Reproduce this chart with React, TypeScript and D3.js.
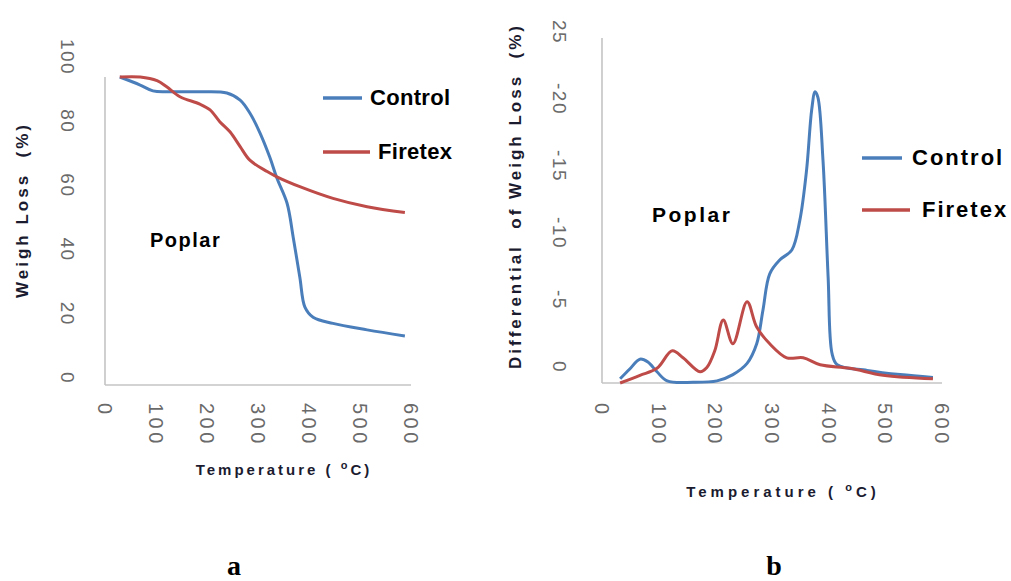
import React from 'react';
import * as d3 from 'd3';

// temperature (°C) for each reading
const tempControlTG = [29, 69, 94, 121, 186, 239, 265, 284, 304, 323, 337, 357, 369, 382, 392, 408, 447, 514, 588];
const weightControl = [100, 97.4, 95.5, 95.2, 95.2, 94.8, 92.5, 88.3, 81.8, 74, 67.2, 59, 48, 35, 25.3, 22, 20, 17.9, 15.9];

const tempFiretexTG = [29, 69, 102, 121, 147, 186, 206, 225, 245, 265, 284, 318, 337, 382, 447, 514, 588];
const weightFiretex = [100, 100, 98.8, 96.8, 93.6, 91.2, 89.3, 85.5, 82.2, 77.4, 73, 69.3, 67.6, 64.4, 60.6, 57.9, 56];

const tempControlDTG = [32, 49, 67, 81, 97, 115, 161, 203, 231, 256, 273, 284, 296, 314, 335, 349, 361, 370, 376, 381, 390, 399, 406, 415, 468, 526, 584];
const dtgControl = [0.3, 1.0, 1.7, 1.5, 0.8, 0.15, 0.05, 0.15, 0.6, 1.4, 2.8, 5.2, 7.8, 8.8, 9.5, 11.6, 15.2, 19.5, 20.8, 20.4, 15.9, 7.6, 2.1, 1.3, 0.9, 0.6, 0.4];

const tempFiretexDTG = [32, 67, 97, 124, 143, 173, 185, 199, 214, 231, 256, 273, 296, 326, 355, 385, 438, 496, 584];
const dtgFiretex = [0, 0.55, 1.05, 2.3, 1.8, 0.8, 1.1, 2.3, 4.5, 2.8, 5.8, 4.0, 2.8, 1.8, 1.8, 1.3, 1.05, 0.55, 0.3];

const xTicks = [0, 100, 200, 300, 400, 500, 600];
const tgTicks = [0, 20, 40, 60, 80, 100];
const dtgTicks = [0, 5, 10, 15, 20, 25];
const dtgTickLabels = ['0', '-5', '-10', '-15', '-20', '25'];

const seriesNames = ['Control', 'Firetex'];
const colors = ['#4a7ebb', '#be4b48'];

const sans = '"Liberation Sans", Arial, sans-serif';
const serif = '"Liberation Serif", "Times New Roman", serif';
const tickColor = '#6a6a6a';
const titleColor = '#1b1b30';
const axisColor = '#c4c4c4';

const toPts = (xs, ys) => xs.map((t, i) => [t, ys[i]]);

const Panel = ({ cfg }) => {
  const x = d3.scaleLinear().domain([0, 600]).range(cfg.xRange);
  const y = d3.scaleLinear().domain(cfg.yDomain).range(cfg.yRange);
  // excel put the rotated tick labels a little above the actual ticks
  const yLab = y.copy().range(cfg.yLabelRange);
  const line = d3.line()
    .x(d => x(d[0]))
    .y(d => y(d[1]))
    .curve(d3.curveCatmullRom.alpha(0.5));

  const [x0, x1] = cfg.xRange;
  const yBottom = cfg.yRange[0];

  return (
    <g>
      <line x1={x0} x2={x0} y1={cfg.axisTop} y2={yBottom} stroke={axisColor} strokeWidth={1.6} />
      <line x1={x0} x2={x1} y1={yBottom} y2={yBottom} stroke={axisColor} strokeWidth={1.6} />

      {cfg.series.map((s, i) => (
        <path key={i} d={line(s)} fill="none" stroke={colors[i]} strokeWidth={3} strokeLinejoin="round" />
      ))}

      {xTicks.map(t => (
        <text key={t} transform={`translate(${x(t)},${cfg.xLabelTop}) rotate(90)`}
          fontFamily={sans} fontSize={20} letterSpacing={3.5} fill={tickColor} dominantBaseline="central">
          {t}
        </text>
      ))}

      {cfg.yTicks.map((t, i) => (
        <text key={t} transform={`translate(${cfg.yLabelX},${yLab(t)}) rotate(90)`}
          fontFamily={sans} fontSize={19} letterSpacing={1.5} fill={tickColor}
          textAnchor="middle" dominantBaseline="central">
          {cfg.yTickLabels[i]}
        </text>
      ))}

      <text transform={`translate(${cfg.yTitle[0]},${cfg.yTitle[1]}) rotate(-90)`}
        fontFamily={sans} fontWeight="bold" fontSize={17} letterSpacing={3}
        fill={titleColor} textAnchor="middle" dominantBaseline="central" style={{ whiteSpace: 'pre' }}>
        {cfg.yTitleText}
      </text>

      <text x={cfg.xTitle[0]} y={cfg.xTitle[1]} fontFamily={sans} fontWeight="bold" fontSize={15}
        letterSpacing={cfg.xTitleSpacing} fill={titleColor} textAnchor="middle" dy="0.35em" style={{ whiteSpace: 'pre' }}>
        {'Temperature ( '}
        <tspan fontSize={11} dy={-6}>o</tspan>
        <tspan dy={6}>C)</tspan>
      </text>

      <text x={cfg.poplar[0]} y={cfg.poplar[1]} fontFamily={sans} fontWeight="bold"
        fontSize={cfg.poplarSize} letterSpacing={cfg.poplarSpacing} fill="#000" dy="0.35em">
        Poplar
      </text>

      {seriesNames.map((name, i) => {
        const lg = cfg.legend[i];
        return (
          <g key={name}>
            <line x1={lg[0]} x2={lg[1]} y1={lg[2]} y2={lg[2]} stroke={colors[i]} strokeWidth={3.5} />
            <text x={lg[3]} y={lg[2]} fontFamily={sans} fontWeight="bold" fontSize={22}
              letterSpacing={cfg.legendSpacing} fill="#000" dy="0.33em">
              {name}
            </text>
          </g>
        );
      })}
    </g>
  );
};

const panels = [
  {
    xRange: [105, 411],
    yDomain: [0, 100],
    yRange: [385, 77],
    yLabelRange: [378, 57],
    axisTop: 77,
    yTicks: tgTicks,
    yTickLabels: tgTicks.map(String),
    yLabelX: 67,
    xLabelTop: 403,
    yTitle: [22, 210],
    yTitleText: 'Weigh Loss  (%)',
    xTitle: [284, 470],
    xTitleSpacing: 3,
    poplar: [150, 240],
    poplarSize: 20,
    poplarSpacing: 1.5,
    legendSpacing: 0.3,
    legend: [[323, 362, 98, 370], [323, 370, 152, 378]],
    series: [toPts(tempControlTG, weightControl), toPts(tempFiretexTG, weightFiretex)],
  },
  {
    xRange: [602, 942],
    yDomain: [0, 25],
    yRange: [383, 33],
    yLabelRange: [367, 32],
    axisTop: 38,
    yTicks: dtgTicks,
    yTickLabels: dtgTickLabels,
    yLabelX: 559,
    xLabelTop: 403,
    yTitle: [515, 196],
    yTitleText: 'Differential  of Weigh Loss  (%)',
    xTitle: [783, 492],
    xTitleSpacing: 4,
    poplar: [652, 215],
    poplarSize: 21,
    poplarSpacing: 2.5,
    legendSpacing: 2,
    legend: [[862, 902, 158, 912], [862, 910, 210, 922]],
    series: [toPts(tempControlDTG, dtgControl), toPts(tempFiretexDTG, dtgFiretex)],
  },
];

const App = () => {
  return (
    <svg width={1011} height={581} style={{ position: 'absolute', left: 0, top: 0, background: '#fff' }}>
      <rect width={1011} height={581} fill="#fff" />
      {panels.map((p, i) => <Panel key={i} cfg={p} />)}
      <text x={234} y={575} fontFamily={serif} fontWeight="bold" fontSize={28} textAnchor="middle">a</text>
      <text x={774} y={575} fontFamily={serif} fontWeight="bold" fontSize={28} textAnchor="middle">b</text>
    </svg>
  );
};

export default App;
